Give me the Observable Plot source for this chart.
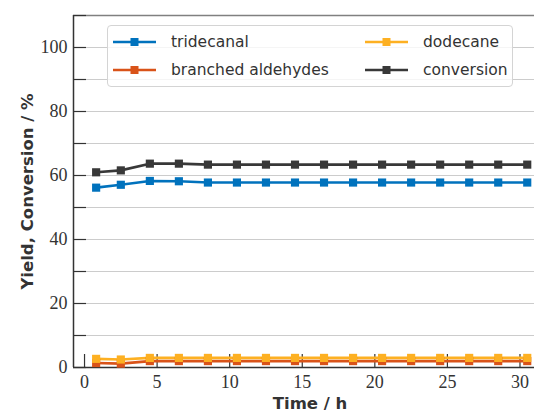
<!DOCTYPE html>
<html>
<head>
<meta charset="utf-8">
<script src="https://cdn.jsdelivr.net/npm/d3@7"></script>
<script src="https://cdn.jsdelivr.net/npm/@observablehq/plot@0.6"></script>
<style>
  body { margin: 0; background: #fff; }
  #wrap { position: relative; width: 534px; height: 412px; overflow: hidden; }
  #legend {
    position: absolute; left: 107px; top: 25px; width: 404px; height: 60px;
    background: rgba(255,255,255,0.8); border: 1px solid #d4d4d4; border-radius: 4px;
    font-family: "DejaVu Sans", sans-serif; font-size: 15.5px; color: #333;
  }
  .item { position: absolute; display: flex; align-items: center; height: 20px; }
  .item svg { margin-right: 15px; }
</style>
</head>
<body>
<div id="wrap"></div>
<script>
const time = [0.8, 2.5, 4.5, 6.5, 8.5, 10.5, 12.5, 14.5, 16.5, 18.5, 20.5, 22.5, 24.5, 26.5, 28.5, 30.5];
const tridecanal = [56.2, 57.1, 58.3, 58.2, 57.8, 57.8, 57.8, 57.8, 57.8, 57.8, 57.8, 57.8, 57.8, 57.8, 57.8, 57.8];
const branched = [1.4, 1.2, 2.0, 2.0, 2.0, 2.0, 2.0, 2.0, 2.0, 2.0, 2.0, 2.0, 2.0, 2.0, 2.0, 2.0];
const dodecane = [2.7, 2.5, 3.0, 3.0, 3.0, 3.0, 3.0, 3.0, 3.0, 3.0, 3.0, 3.0, 3.0, 3.0, 3.0, 3.0];
const conversion = [61.0, 61.6, 63.7, 63.7, 63.4, 63.4, 63.4, 63.4, 63.4, 63.4, 63.4, 63.4, 63.4, 63.4, 63.4, 63.4];

const seriesNames = ["tridecanal", "branched aldehydes", "dodecane", "conversion"];
const seriesColors = ["#0072BD", "#D95319", "#FDB022", "#383838"];
const seriesValues = [tridecanal, branched, dodecane, conversion];

const xTicks = [0, 5, 10, 15, 20, 25, 30];
const yTickLabels = [0, 20, 40, 60, 80, 100];
const yTicksMinor = [0, 10, 20, 30, 40, 50, 60, 70, 80, 90, 100, 110];
const gridLines = [10, 20, 30, 40, 50, 60, 70, 80, 90, 100];
const xDomain = [-0.76, 31.0];
const yDomain = [0, 110];

const data = [];
seriesNames.forEach((name, i) => {
  time.forEach((t, j) => data.push({series: name, time: t, value: seriesValues[i][j]}));
});

const tickLenX = 13 / ((534 - 73) / (xDomain[1] - xDomain[0]));
const tickLenY = 13 / ((367 - 15) / (yDomain[1] - yDomain[0]));
const serif = "'Liberation Serif', serif";
const sans = "'DejaVu Sans', sans-serif";

const chart = Plot.plot({
  width: 534,
  height: 412,
  marginTop: 15,
  marginBottom: 45,
  marginLeft: 73,
  marginRight: 0,
  x: {domain: xDomain, axis: null},
  y: {domain: yDomain, axis: null},
  color: {domain: seriesNames, range: seriesColors},
  style: {background: "white"},
  marks: [
    Plot.ruleY(gridLines, {stroke: "#cccccc", strokeWidth: 1}),
    Plot.ruleY([yDomain[1]], {stroke: "#808080", strokeWidth: 1.5}),
    Plot.ruleX([xDomain[0]], {stroke: "#333", strokeWidth: 1.5}),
    Plot.ruleY([0], {stroke: "#333", strokeWidth: 1.5}),
    Plot.ruleY(yTicksMinor, {y: d => d, x1: xDomain[0], x2: xDomain[0] + tickLenX, stroke: "#333", strokeWidth: 1.2}),
    Plot.ruleX(xTicks, {x: d => d, y1: 0, y2: tickLenY, stroke: "#333", strokeWidth: 1.2}),
    Plot.text(xTicks, {x: d => d, y: 0, text: d => String(d), dy: 15, fontSize: 18, fontFamily: serif, fill: "#333", lineAnchor: "middle"}),
    Plot.text(yTickLabels, {y: d => d, x: xDomain[0], text: d => String(d), dx: -6, textAnchor: "end", fontSize: 18, fontFamily: serif, fill: "#333"}),
    Plot.line(data, {x: "time", y: "value", z: "series", stroke: "series", strokeWidth: 2.6}),
    Plot.dot(data, {x: "time", y: "value", fill: "series", symbol: "square", r: 4.6, stroke: null}),
    Plot.text(["Time / h"], {frameAnchor: "bottom", lineAnchor: "middle", dy: 36, dx: 6, text: d => d, fontSize: 16.5, fontWeight: "bold", fontFamily: sans, fill: "#333"}),
    Plot.text(["Yield, Conversion / %"], {frameAnchor: "left", textAnchor: "middle", lineAnchor: "middle", dx: -46, rotate: -90, text: d => d, fontSize: 16.5, fontWeight: "bold", fontFamily: sans, fill: "#333"})
  ]
});

const wrap = document.getElementById("wrap");
wrap.appendChild(chart);

const legend = document.createElement("div");
legend.id = "legend";
const positions = [[5, 6], [5, 34], [257, 6], [257, 34]];
seriesNames.forEach((name, i) => {
  const item = document.createElement("div");
  item.className = "item";
  item.style.left = positions[i][0] + "px";
  item.style.top = positions[i][1] + "px";
  item.innerHTML = `<svg width="43" height="12"><line x1="0" y1="6" x2="43" y2="6" stroke="${seriesColors[i]}" stroke-width="2.6"/><rect x="17.5" y="2" width="8" height="8" fill="${seriesColors[i]}"/></svg><span>${name}</span>`;
  legend.appendChild(item);
});
wrap.appendChild(legend);
</script>
</body>
</html>
